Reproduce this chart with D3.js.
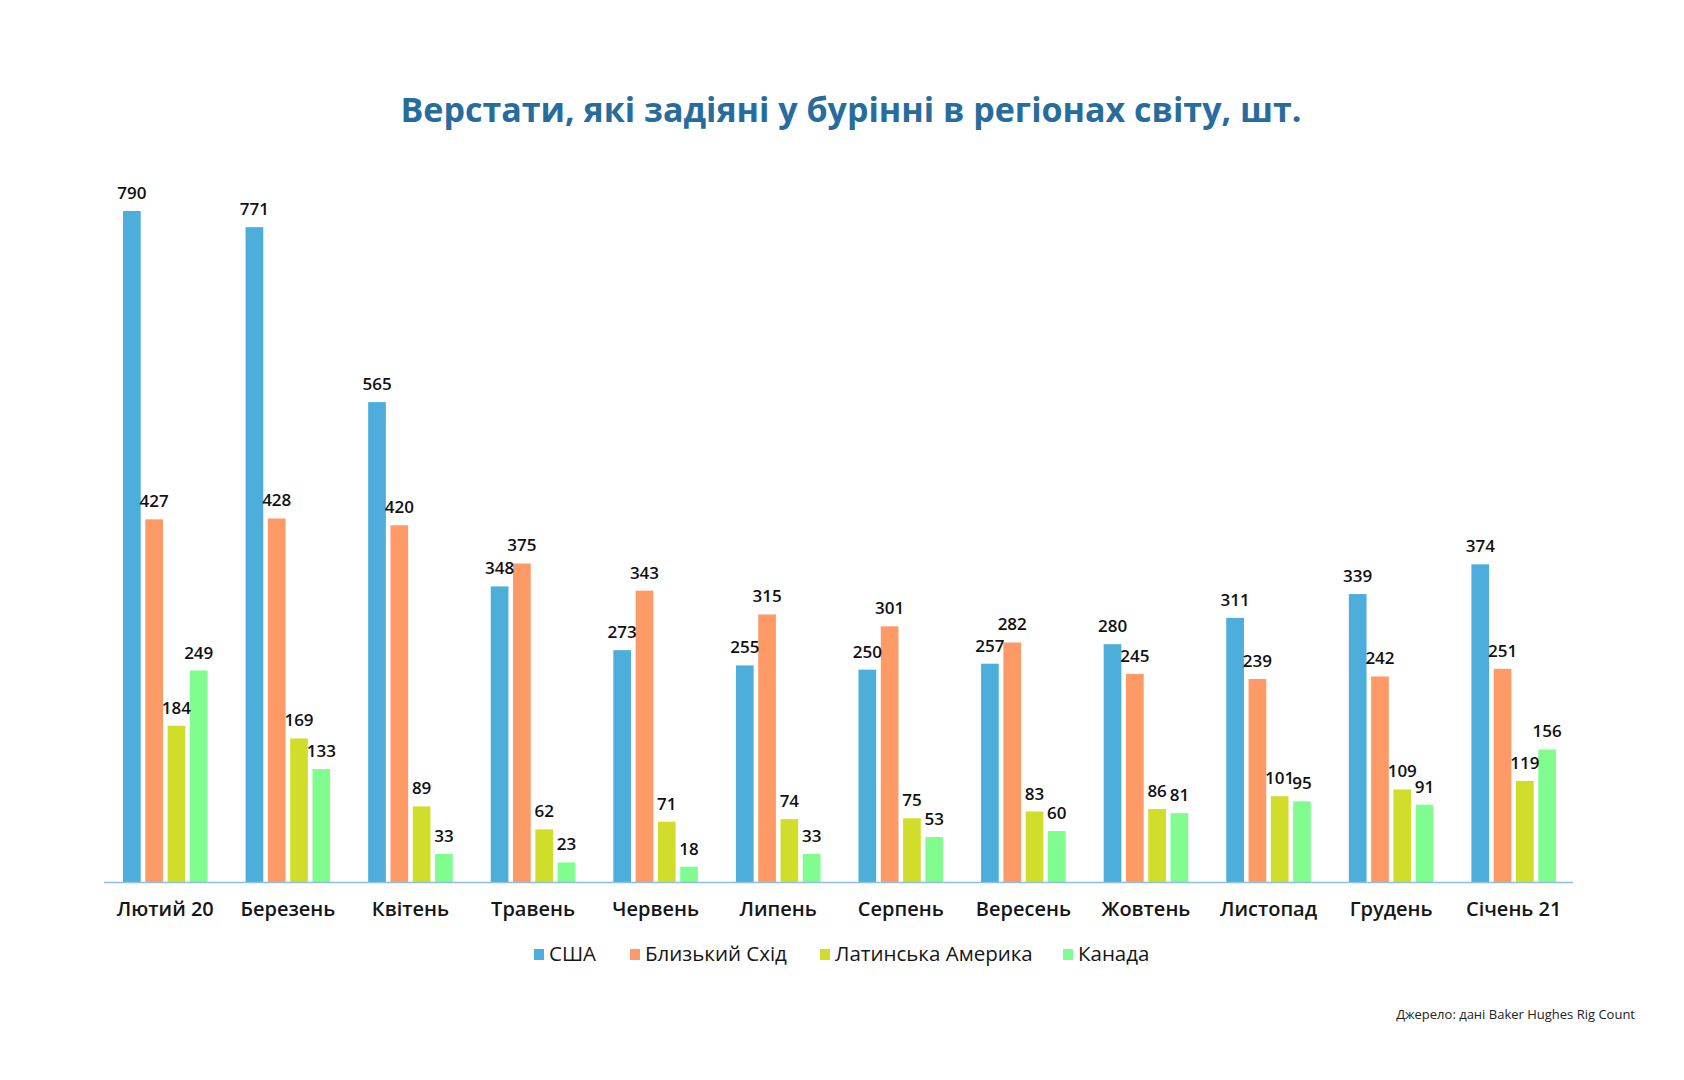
<!DOCTYPE html>
<html>
<head>
<meta charset="utf-8">
<script src="https://cdn.jsdelivr.net/npm/d3@7"></script>
<style>
  body { margin: 0; background: #fff; }
  text { font-family: "Open Sans", sans-serif; }
</style>
</head>
<body>
<div id="chart"></div>
<script>
var months = ['Лютий 20', 'Березень', 'Квітень', 'Травень', 'Червень', 'Липень',
  'Серпень', 'Вересень', 'Жовтень', 'Листопад', 'Грудень', 'Січень 21'];
var seriesNames = ['США', 'Близький Схід', 'Латинська Америка', 'Канада'];
var usa = [790, 771, 565, 348, 273, 255, 250, 257, 280, 311, 339, 374];
var middleEast = [427, 428, 420, 375, 343, 315, 301, 282, 245, 239, 242, 251];
var latinAmerica = [184, 169, 89, 62, 71, 74, 75, 83, 86, 101, 109, 119];
var canada = [249, 133, 33, 23, 18, 33, 53, 60, 81, 95, 91, 156];
var colors = ['#4eaedb', '#fe9a66', '#d0de2b', '#81fd90'];

var width = 1684, height = 1080;
var series = [usa, middleEast, latinAmerica, canada];

var svg = d3.select('#chart').append('svg')
  .attr('width', width)
  .attr('height', height);

// title
svg.append('text')
  .attr('x', 851)
  .attr('y', 122)
  .attr('text-anchor', 'middle')
  .style('font-size', '34px')
  .style('font-weight', '700')
  .style('fill', '#286c9e')
  .text('Верстати, які задіяні у бурінні в регіонах світу, шт.');

var x = d3.scaleBand()
  .domain(months)
  .range([104, 1575])
  .padding(0);

var inner = d3.scaleBand()
  .domain(seriesNames)
  .range([0, 84.6])
  .paddingInner(0.206)
  .paddingOuter(0);

var y = d3.scaleLinear()
  .domain([0, 790])
  .range([882, 211]);

var groups = svg.selectAll('g.group')
  .data(months)
  .enter()
  .append('g')
    .attr('class', 'group')
    .attr('transform', function(d) {
      return 'translate(' + (x(d) + x.bandwidth() / 2 - 42.3) + ',0)';
    });

function rows(d, i) {
  return series.map(function(s, k) { return {name: seriesNames[k], value: s[i], k: k}; });
}

groups.selectAll('rect')
  .data(rows)
  .enter()
  .append('rect')
    .attr('x', function(d) { return inner(d.name); })
    .attr('y', function(d) { return y(d.value); })
    .attr('width', inner.bandwidth())
    .attr('height', function(d) { return y(0) - y(d.value); })
    .attr('fill', function(d) { return colors[d.k]; });

groups.selectAll('text.val')
  .data(rows)
  .enter()
  .append('text')
    .attr('class', 'val')
    .attr('x', function(d) { return inner(d.name) + inner.bandwidth() / 2; })
    .attr('y', function(d) { return y(d.value) - 12; })
    .attr('text-anchor', 'middle')
    .style('font-size', '17px')
    .style('font-weight', '600')
    .style('fill', '#111')
    .text(function(d) { return d.value; });

// axis
var axis = svg.append('g')
  .attr('transform', 'translate(0,' + y(0) + ')')
  .call(d3.axisBottom(x).tickSize(0).tickPadding(20));
axis.select('.domain')
  .attr('d', 'M104,0.5H1573')
  .attr('stroke', '#8dbfe0')
  .attr('stroke-width', 1.5);
axis.selectAll('text')
  .style('font-family', '"Open Sans", sans-serif')
  .style('font-size', '20px')
  .style('font-weight', '600')
  .style('fill', '#161616');

// legend
var legendX = [534, 630, 820, 1063];
var legend = svg.selectAll('g.legend')
  .data(seriesNames)
  .enter()
  .append('g')
    .attr('class', 'legend')
    .attr('transform', function(d, i) { return 'translate(' + legendX[i] + ',949)'; });
legend.append('rect')
  .attr('width', 10)
  .attr('height', 11)
  .attr('fill', function(d, i) { return colors[i]; });
legend.append('text')
  .attr('x', 15)
  .attr('y', 12)
  .style('font-size', '20.5px')
  .style('font-weight', '500')
  .style('fill', '#161616')
  .text(function(d) { return d; });

// source
svg.append('text')
  .attr('x', 1635)
  .attr('y', 1019)
  .attr('text-anchor', 'end')
  .style('font-size', '13px')
  .style('fill', '#222')
  .text('Джерело: дані Baker Hughes Rig Count');
</script>
</body>
</html>
